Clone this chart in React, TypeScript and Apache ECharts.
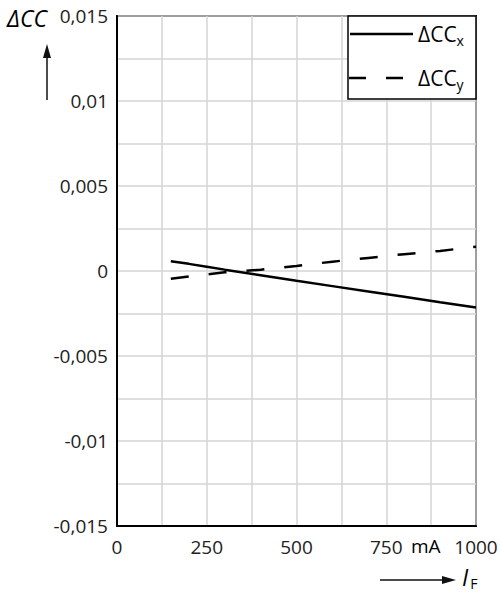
import React, { useEffect, useRef } from "react";
import * as echarts from "echarts";

const currents = [150, 200, 250, 300, 400, 500, 600, 700, 800, 900, 1000];
const dCCx = [0.00058, 0.00042, 0.00025, 0.00008, -0.00025, -0.00058, -0.00089, -0.0012, -0.00152, -0.00184, -0.00215];
const dCCy = [-0.00045, -0.00032, -0.0002, -0.00008, 0.00008, 0.0003, 0.00055, 0.00077, 0.00099, 0.00118, 0.00143];
const seriesNames = ["ΔCCx", "ΔCCy"];
const xLabelStep = 250;
const yLabelStep = 0.005;

const FONT = "Open Sans";

function fmtY(v: number): string {
  const r = v / yLabelStep;
  if (Math.abs(r - Math.round(r)) > 1e-6) return "";
  const s = String(parseFloat(v.toFixed(4)));
  return s.replace(".", ",");
}

function fmtX(v: number): string {
  const r = v / xLabelStep;
  if (Math.abs(r - Math.round(r)) > 1e-6) return "";
  return String(Math.round(v));
}

export default function App() {
  const ref = useRef<HTMLDivElement>(null);
  useEffect(() => {
    if (!ref.current) return;
    const chart = echarts.init(ref.current, undefined, { renderer: "svg" });
    const legendRich = {
      m: { fontSize: 21, fontFamily: FONT, color: "#111" },
      s: { fontSize: 14, fontFamily: FONT, color: "#111", padding: [12, 0, 0, 0] },
    };
    const option: any = {
      animation: false,
      backgroundColor: "#ffffff",
      textStyle: { fontFamily: FONT },
      grid: {
        left: 117,
        top: 16,
        right: 25,
        bottom: 72,
        show: true,
        borderColor: "#000",
        borderWidth: 2,
      },
      xAxis: {
        type: "value",
        min: 0,
        max: 1000,
        interval: 125,
        axisLine: { show: true, onZero: false, lineStyle: { color: "#000", width: 2 } },
        axisTick: { show: false },
        splitLine: { show: true, lineStyle: { color: "#d4d4d4", width: 1.5 } },
        axisLabel: {
          formatter: fmtX,
          color: "#222",
          fontSize: 19,
          fontFamily: FONT,
          margin: 11,
          showMinLabel: true,
          showMaxLabel: true,
        },
      },
      yAxis: {
        type: "value",
        min: -0.015,
        max: 0.015,
        interval: 0.0025,
        axisLine: { show: true, onZero: false, lineStyle: { color: "#000", width: 2 } },
        axisTick: { show: false },
        splitLine: { show: true, lineStyle: { color: "#d4d4d4", width: 1.5 } },
        axisLabel: {
          formatter: fmtY,
          color: "#222",
          fontSize: 19,
          fontFamily: FONT,
          margin: 9,
          showMinLabel: true,
          showMaxLabel: true,
        },
      },
      series: [
        {
          name: seriesNames[0],
          type: "line",
          data: currents.map((c, i) => [c, dCCx[i]]),
          showSymbol: false,
          symbol: "none",
          lineStyle: { color: "#000", width: 2.5, type: "solid" },
          itemStyle: { color: "#000" },
        },
        {
          name: seriesNames[1],
          type: "line",
          data: currents.map((c, i) => [c, dCCy[i]]),
          showSymbol: false,
          symbol: "none",
          lineStyle: { color: "#000", width: 2.5, type: [18, 20] },
          itemStyle: { color: "#000" },
        },
      ],
      graphic: [
        // legend
        {
          type: "rect",
          shape: { x: 348, y: 16, width: 128, height: 83 },
          style: { fill: "#fff", stroke: "#000", lineWidth: 1.5 },
          z: 100,
        },
        {
          type: "line",
          shape: { x1: 350, y1: 34, x2: 413, y2: 34 },
          style: { stroke: "#000", lineWidth: 2.5 },
          z: 101,
        },
        {
          type: "line",
          shape: { x1: 349, y1: 78, x2: 413, y2: 78 },
          style: { stroke: "#000", lineWidth: 2.5, lineDash: [17, 20] },
          z: 101,
        },
        {
          type: "text",
          x: 418,
          y: 21,
          z: 101,
          style: { text: "{m|ΔCC}{s|x}", rich: legendRich },
        },
        {
          type: "text",
          x: 418,
          y: 65,
          z: 101,
          style: { text: "{m|ΔCC}{s|y}", rich: legendRich },
        },
        // axis titles
        {
          type: "text",
          x: 7,
          y: 6,
          style: {
            text: "{t|ΔCC}",
            rich: { t: { fontSize: 23, fontStyle: "italic", fontFamily: FONT, color: "#111" } },
          },
        },
        {
          type: "line",
          shape: { x1: 47, y1: 100, x2: 47, y2: 56 },
          style: { stroke: "#111", lineWidth: 1.5 },
        },
        {
          type: "polygon",
          shape: { points: [[43, 58], [51, 58], [47, 44]] },
          style: { fill: "#111" },
        },
        {
          type: "text",
          x: 411,
          y: 536,
          style: {
            text: "{t|mA}",
            rich: { t: { fontSize: 19, fontFamily: FONT, color: "#222" } },
          },
        },
        {
          type: "line",
          shape: { x1: 380, y1: 580, x2: 444, y2: 580 },
          style: { stroke: "#111", lineWidth: 1.5 },
        },
        {
          type: "polygon",
          shape: { points: [[442, 576], [442, 584], [456, 580]] },
          style: { fill: "#111" },
        },
        {
          type: "text",
          x: 462,
          y: 563,
          style: {
            text: "{i|I}{s|F}",
            rich: {
              i: { fontSize: 23, fontStyle: "italic", fontFamily: FONT, color: "#111" },
              s: { fontSize: 14, fontFamily: FONT, color: "#111", padding: [13, 0, 0, 2] },
            },
          },
        },
      ],
    };
    chart.setOption(option);
    return () => chart.dispose();
  }, []);
  return (
    <div
      ref={ref}
      style={{ position: "absolute", left: 0, top: 0, width: 501, height: 598 }}
    />
  );
}
